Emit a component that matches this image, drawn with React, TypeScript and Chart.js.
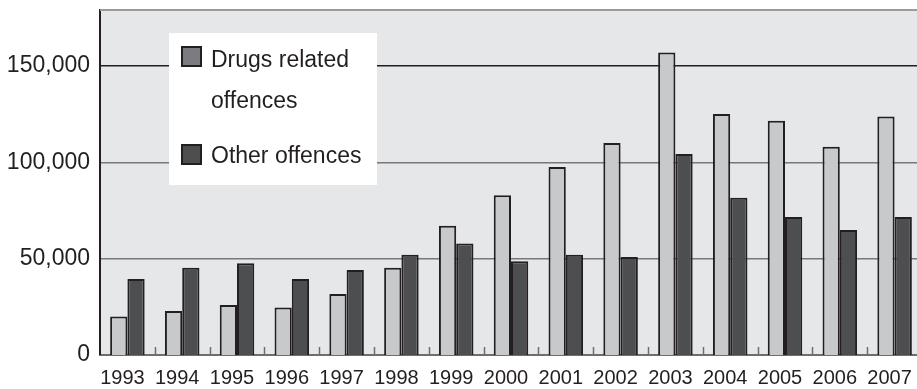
import React, { useEffect, useRef } from "react";
import { Chart, registerables } from "chart.js";

Chart.register(...registerables);

const years = ["1993", "1994", "1995", "1996", "1997", "1998", "1999", "2000", "2001", "2002", "2003", "2004", "2005", "2006", "2007"];
const drugsRelated = [20000, 22800, 26000, 24700, 31700, 45300, 67000, 82900, 97500, 110000, 157000, 125100, 121600, 108100, 123700];
const otherOffences = [39400, 45300, 47600, 39400, 44100, 52000, 57800, 48600, 52000, 50900, 104300, 81600, 71600, 64900, 71600];
const yTickValues = [0, 50000, 100000, 150000];
const yMax = 179000;
const seriesNames = ["Drugs related offences", "Other offences"];
const legendLines = [["Drugs related", "offences"], ["Other offences"]];

const LIGHT = "#c8c9cb";
const DARK = "#4d4e50";
const EDGE = "#231f20";
const PLOT_BG = "#e6e7e9";

const decorPlugin = {
  id: "decor",
  beforeDraw(chart: any) {
    const { ctx, chartArea: a } = chart;
    ctx.save();
    ctx.fillStyle = PLOT_BG;
    ctx.fillRect(a.left, a.top, a.right - a.left, a.bottom - a.top);
    ctx.restore();
  },
  afterDraw(chart: any) {
    const { ctx, chartArea: a } = chart;
    const xs = chart.scales.x;
    ctx.save();
    // top frame
    ctx.strokeStyle = "#9a9a9c";
    ctx.lineWidth = 2;
    ctx.beginPath();
    ctx.moveTo(a.left, a.top);
    ctx.lineTo(a.right, a.top);
    ctx.stroke();
    // inner tick marks at category boundaries
    ctx.strokeStyle = "#6d6e70";
    ctx.lineWidth = 1.5;
    for (let i = 0; i < years.length - 1; i++) {
      const x = Math.round((xs.getPixelForValue(i) + xs.getPixelForValue(i + 1)) / 2) + 0.5;
      ctx.beginPath();
      ctx.moveTo(x, a.bottom);
      ctx.lineTo(x, a.bottom - 8);
      ctx.stroke();
    }
    // legend box
    ctx.fillStyle = "#ffffff";
    ctx.fillRect(169, 33, 208, 152);
    const swatches = ["#7b7c80", DARK];
    const swY = [46, 144];
    const baselines = [[67, 108], [162.5]];
    ctx.font = "23px 'Liberation Sans', Arial, sans-serif";
    ctx.textBaseline = "alphabetic";
    ctx.textAlign = "left";
    for (let s = 0; s < 2; s++) {
      ctx.fillStyle = swatches[s];
      ctx.fillRect(181, swY[s], 21, 21);
      ctx.strokeStyle = EDGE;
      ctx.lineWidth = 2;
      ctx.strokeRect(182, swY[s] + 1, 19, 19);
      ctx.fillStyle = EDGE;
      legendLines[s].forEach((line, k) => ctx.fillText(line, 211, baselines[s][k]));
    }
    ctx.restore();
  },
};

export default function App() {
  const ref = useRef<HTMLCanvasElement>(null);
  useEffect(() => {
    if (!ref.current) return;
    const chart = new Chart(ref.current, {
      type: "bar",
      data: {
        labels: years,
        datasets: [
          {
            label: seriesNames[0],
            data: drugsRelated,
            backgroundColor: LIGHT,
            borderColor: EDGE,
            borderWidth: 2,
            categoryPercentage: 0.63,
            barPercentage: 1,
          },
          {
            label: seriesNames[1],
            data: otherOffences,
            backgroundColor: DARK,
            borderColor: EDGE,
            borderWidth: 2,
            categoryPercentage: 0.63,
            barPercentage: 1,
          },
        ],
      },
      options: {
        responsive: false,
        animation: false,
        layout: { padding: { top: 10, right: 0, left: 0, bottom: 0 } },
        plugins: { legend: { display: false }, tooltip: { enabled: false }, title: { display: false } },
        scales: {
          x: {
            grid: { display: false, drawTicks: false },
            border: { display: true, color: "#6d6e70", width: 2 },
            ticks: {
              color: EDGE,
              padding: 11,
              labelOffset: -5,
              maxRotation: 0,
              autoSkip: false,
              font: { family: "'Liberation Sans Narrow', 'Liberation Sans', Arial, sans-serif", size: 20 },
            },
            afterFit: (scale: any) => {
              scale.height = 34;
              scale.paddingLeft = 0;
              scale.paddingRight = 0;
            },
          },
          y: {
            min: 0,
            max: yMax,
            grid: {
              drawTicks: false,
              lineWidth: (c: any) => (c.tick && c.tick.value > 0 ? 1.5 : 0),
              color: (c: any) => (c.tick && c.tick.value === 150000 ? "#231f20" : "#77787b"),
            },
            border: { display: true, color: EDGE, width: 2 },
            ticks: {
              color: EDGE,
              padding: 10,
              stepSize: 50000,
              font: { family: "'Liberation Sans', Arial, sans-serif", size: 23 },
              callback: (v: any) => Number(v).toLocaleString("en-US"),
            },
            afterBuildTicks: (scale: any) => {
              scale.ticks = yTickValues.map((value) => ({ value }));
            },
            afterFit: (scale: any) => {
              scale.width = 100;
              scale.paddingTop = 0;
              scale.paddingBottom = 0;
            },
          },
        },
      },
      plugins: [decorPlugin],
    });
    return () => chart.destroy();
  }, []);
  return (
    <div style={{ position: "fixed", left: 0, top: 0, width: 917, height: 389, overflow: "hidden", background: "#fff" }}>
      <canvas ref={ref} width={922} height={389} style={{ display: "block" }} />
    </div>
  );
}
